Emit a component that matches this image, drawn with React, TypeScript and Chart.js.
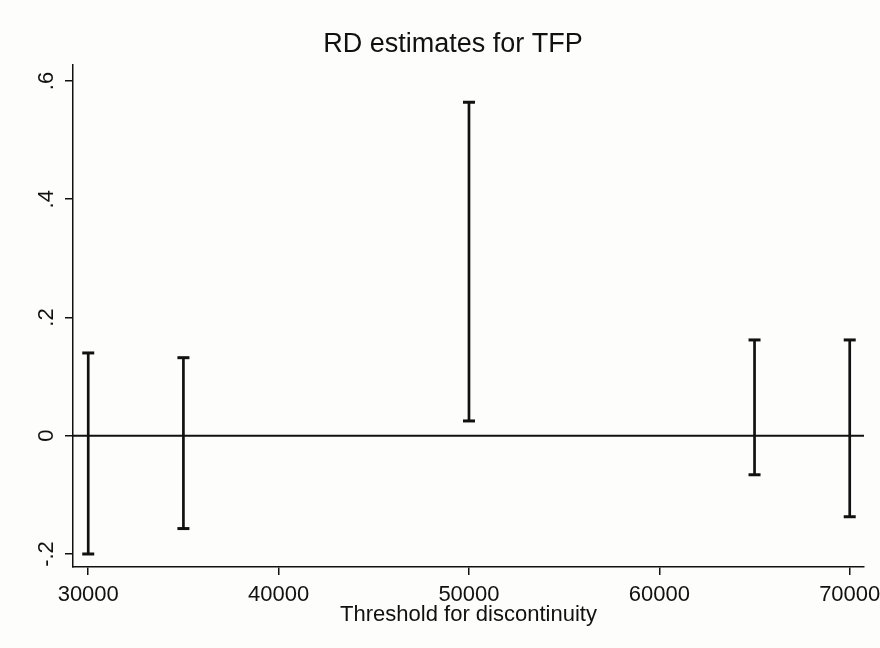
import React, { useEffect, useRef } from 'react';
import { Chart, registerables } from 'chart.js';

Chart.register(...registerables);

// ---- data ----
const thresholds = [30000, 35000, 50000, 65000, 70000];
const lowerBounds = [-0.2, -0.157, 0.025, -0.066, -0.137];
const upperBounds = [0.14, 0.132, 0.564, 0.162, 0.162];
const xTickValues = [30000, 40000, 50000, 60000, 70000];
const yTickValues = [-0.2, 0, 0.2, 0.4, 0.6];
const yTickLabels = ['-.2', '0', '.2', '.4', '.6'];
const referenceY = 0;
const xMin = 29200;
const xMax = 70750;
const yMin = -0.222;
const yMax = 0.627;
const chartTitle = 'RD estimates for TFP';
const xAxisTitle = 'Threshold for discontinuity';

const FONT = "'Liberation Sans', Arial, sans-serif";
const INK = '#111111';

export default function App() {
  const canvasRef = useRef<HTMLCanvasElement | null>(null);

  useEffect(() => {
    document.body.style.margin = '0';
    const canvas = canvasRef.current;
    if (!canvas) return;

    const barDatasets = thresholds.map((x, i) => ({
      type: 'scatter' as const,
      data: [
        { x, y: lowerBounds[i] },
        { x, y: upperBounds[i] },
      ],
      showLine: true,
      borderColor: INK,
      borderWidth: 2.7,
      pointStyle: 'line',
      pointRadius: 6,
      pointHoverRadius: 6,
      pointBorderWidth: 3,
      pointBorderColor: INK,
      pointBackgroundColor: INK,
      clip: false,
    }));

    const zeroLine = {
      type: 'scatter' as const,
      data: [
        { x: xMin, y: referenceY },
        { x: xMax, y: referenceY },
      ],
      showLine: true,
      borderColor: INK,
      borderWidth: 2,
      pointRadius: 0,
      pointHoverRadius: 0,
    };

    const bgPlugin = {
      id: 'bg',
      beforeDraw(chart: any) {
        const ctx = chart.ctx;
        ctx.save();
        ctx.fillStyle = '#fdfdfc';
        ctx.fillRect(0, 0, chart.width, chart.height);
        ctx.restore();
      },
    };

    const titlePlugin = {
      id: 'stataTitle',
      afterDraw(chart: any) {
        const ctx = chart.ctx;
        ctx.save();
        ctx.fillStyle = INK;
        ctx.font = `27px ${FONT}`;
        ctx.textAlign = 'center';
        ctx.textBaseline = 'alphabetic';
        ctx.fillText(chartTitle, 453, 52);
        ctx.restore();
      },
    };

    const chart = new Chart(canvas, {
      type: 'scatter',
      data: { datasets: [zeroLine, ...barDatasets] as any },
      options: {
        animation: false,
        responsive: false,
        events: [],
        layout: { padding: { top: 65, right: 16, bottom: 0, left: 0 } },
        plugins: {
          legend: { display: false },
          title: { display: false },
          tooltip: { enabled: false },
        },
        scales: {
          x: {
            type: 'linear',
            min: xMin,
            max: xMax,
            afterBuildTicks: (scale: any) => {
              scale.ticks = xTickValues.map((v) => ({ value: v }));
            },
            afterFit: (scale: any) => {
              scale.height = 81;
              scale.paddingLeft = 0;
              scale.paddingRight = 0;
            },
            ticks: {
              color: INK,
              font: { family: FONT, size: 22 },
              padding: 7,
              maxRotation: 0,
              minRotation: 0,
              autoSkip: false,
              callback: (v: any) => String(v),
            },
            grid: {
              display: true,
              drawOnChartArea: false,
              drawTicks: true,
              tickLength: 8,
              color: INK,
              lineWidth: 1.5,
            },
            border: { display: true, color: INK, width: 1.5 },
            title: {
              display: true,
              text: xAxisTitle,
              color: INK,
              font: { family: FONT, size: 22 },
              padding: { top: 0, bottom: 20 },
            },
          },
          y: {
            type: 'linear',
            min: yMin,
            max: yMax,
            afterBuildTicks: (scale: any) => {
              scale.ticks = yTickValues.map((v) => ({ value: v }));
            },
            afterFit: (scale: any) => {
              scale.width = 73;
              scale.paddingTop = 0;
              scale.paddingBottom = 0;
            },
            ticks: {
              color: INK,
              font: { family: FONT, size: 22 },
              padding: 5,
              minRotation: 90,
              maxRotation: 90,
              crossAlign: 'center',
              autoSkip: false,
              callback: (v: any) => {
                const idx = yTickValues.findIndex((t) => Math.abs(t - Number(v)) < 1e-9);
                return idx >= 0 ? yTickLabels[idx] : '';
              },
            },
            grid: {
              display: true,
              drawOnChartArea: false,
              drawTicks: true,
              tickLength: 8,
              color: INK,
              lineWidth: 1.5,
            },
            border: { display: true, color: INK, width: 1.5 },
          },
        },
      },
      plugins: [bgPlugin, titlePlugin],
    });

    return () => {
      chart.destroy();
    };
  }, []);

  return (
    <div style={{ position: 'fixed', left: 0, top: 0, width: 880, height: 648, background: '#fdfdfc' }}>
      <canvas ref={canvasRef} width={880} height={648} style={{ display: 'block' }} />
    </div>
  );
}
